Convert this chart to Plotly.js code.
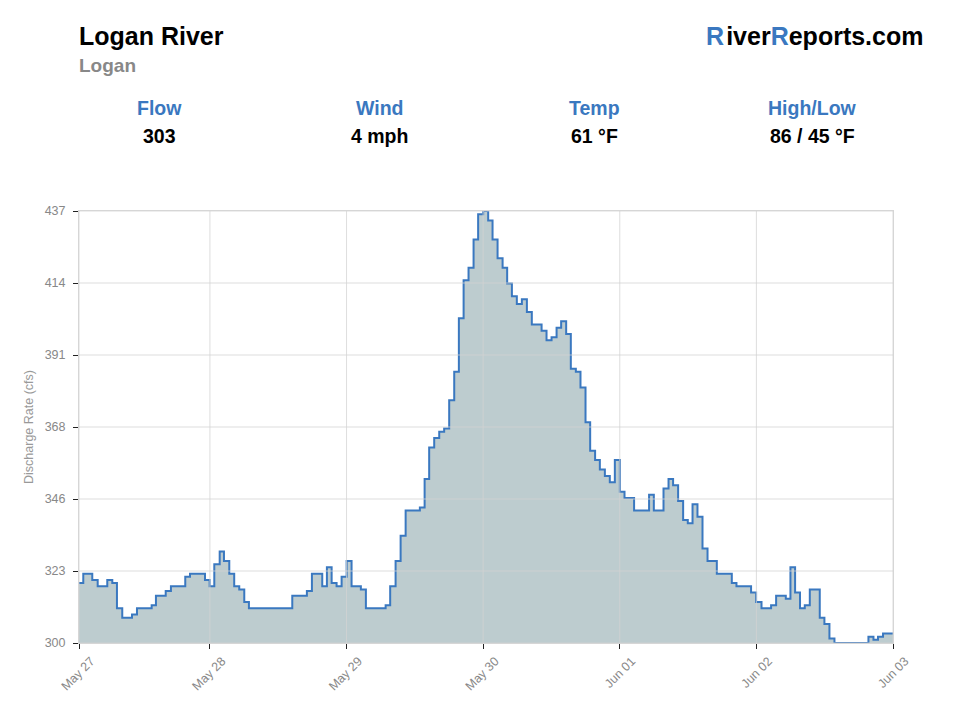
<!DOCTYPE html>
<html>
<head>
<meta charset="utf-8">
<script src="https://cdn.plot.ly/plotly-3.0.1.min.js"></script>
<style>
  html, body { margin: 0; padding: 0; background: #fff; }
  #chart { width: 960px; height: 720px; }
</style>
</head>
<body>
<div id="chart"></div>
<script>
// ---- Data ----
const times = [
  '2023-05-27 01:00','2023-05-27 01:45','2023-05-27 03:20','2023-05-27 04:17','2023-05-27 05:58',
  '2023-05-27 06:51','2023-05-27 07:40','2023-05-27 08:36','2023-05-27 10:19','2023-05-27 11:11',
  '2023-05-27 13:46','2023-05-27 14:31','2023-05-27 16:14','2023-05-27 17:09','2023-05-27 19:40',
  '2023-05-27 20:30','2023-05-27 23:08','2023-05-27 23:57',
  '2023-05-28 00:46','2023-05-28 01:43','2023-05-28 02:28','2023-05-28 03:24','2023-05-28 04:16',
  '2023-05-28 05:09','2023-05-28 06:02','2023-05-28 06:51','2023-05-28 14:28','2023-05-28 17:02',
  '2023-05-28 17:55','2023-05-28 19:44','2023-05-28 20:33','2023-05-28 21:23','2023-05-28 22:15',
  '2023-05-28 23:08',
  '2023-05-29 00:01','2023-05-29 00:53','2023-05-29 02:31','2023-05-29 03:24','2023-05-29 06:52',
  '2023-05-29 07:40','2023-05-29 08:37','2023-05-29 09:30','2023-05-29 10:23','2023-05-29 12:53',
  '2023-05-29 13:43','2023-05-29 14:31','2023-05-29 15:24','2023-05-29 16:17','2023-05-29 17:09',
  '2023-05-29 18:02','2023-05-29 18:55','2023-05-29 19:44','2023-05-29 20:34','2023-05-29 21:26',
  '2023-05-29 22:19','2023-05-29 23:07',
  '2023-05-30 00:00','2023-05-30 00:53','2023-05-30 01:39','2023-05-30 02:32','2023-05-30 03:25',
  '2023-05-30 04:13','2023-05-30 05:03','2023-05-30 05:55','2023-05-30 06:48','2023-05-30 07:41',
  '2023-05-30 08:33','2023-05-30 10:16','2023-05-30 11:08','2023-05-30 12:01','2023-05-30 12:54',
  '2023-05-30 13:42','2023-05-30 14:35','2023-05-30 15:24','2023-05-30 16:17','2023-05-30 17:06',
  '2023-05-30 17:59','2023-05-30 18:48','2023-05-30 19:40','2023-05-30 20:30','2023-05-30 21:23',
  '2023-05-30 22:15','2023-05-30 23:08',
  '2023-05-31 00:01','2023-05-31 00:50','2023-05-31 02:31','2023-05-31 05:09','2023-05-31 05:59',
  '2023-05-31 07:41','2023-05-31 08:34','2023-05-31 09:22','2023-05-31 10:15','2023-05-31 11:08',
  '2023-05-31 11:57','2023-05-31 12:47','2023-05-31 13:39','2023-05-31 14:32','2023-05-31 15:25',
  '2023-05-31 17:03','2023-05-31 19:41','2023-05-31 20:30','2023-05-31 23:04','2023-05-31 23:57',
  '2023-06-01 00:54','2023-06-01 02:35','2023-06-01 03:28','2023-06-01 05:10','2023-06-01 05:59',
  '2023-06-01 06:48','2023-06-01 07:40','2023-06-01 08:30','2023-06-01 09:23','2023-06-01 11:08',
  '2023-06-01 11:57','2023-06-01 12:50','2023-06-01 13:43','2023-06-01 19:41','2023-06-01 20:34',
  '2023-06-01 21:22','2023-06-01 22:15','2023-06-02 00:00'
];
const discharge = [
  319, 322, 320, 318, 320,
  319, 311, 308, 309, 311,
  312, 315, 316.5, 318, 321,
  322, 320, 318,
  325, 329, 326, 322, 318,
  317, 313, 311, 315, 316.5,
  322, 318, 324, 319, 318,
  321,
  326, 318, 317, 311, 312,
  318, 326, 334, 342, 343,
  352, 362, 365, 367, 368,
  377, 386, 403, 415, 419,
  428, 436,
  437, 434, 428, 422, 419,
  414, 410, 407.5, 409, 405,
  401, 399, 396, 397, 400,
  402, 398, 387, 386, 381,
  370, 361, 358, 355, 353,
  351, 358,
  348, 346, 342, 347, 342,
  349, 352, 350, 345, 339,
  338, 344, 340, 330, 326,
  322, 319, 318, 316, 313,
  311, 312, 315, 314, 324,
  316, 311, 312, 317, 308,
  306, 301.4, 300, 302, 301,
  302, 303, 303
];

const xRange = ['2023-05-27 01:00', '2023-06-02 00:00'];
const xTickVals = ['2023-05-27 01:00','2023-05-28 00:00','2023-05-29 00:00','2023-05-30 00:00',
                   '2023-05-31 00:00','2023-06-01 00:00','2023-06-02 00:00'];
const xTickLabels = ['May 27','May 28','May 29','May 30','Jun 01','Jun 02','Jun 03'];

const yMin = 300, yMax = 437;
const yTickLabels = ['300','323','346','368','391','414','437'];

const statLabels = ['Flow','Wind','Temp','High/Low'];
const statValues = ['303','4 mph','61 °F','86 / 45 °F'];

// ---- Derived ----
const yTickVals = yTickLabels.map((_, i) => yMin + (yMax - yMin) * i / (yTickLabels.length - 1));

const BLUE = '#3a78c0';
const FONT = 'Liberation Sans, Arial, Helvetica, sans-serif';

const trace = {
  x: times,
  y: discharge,
  type: 'scatter',
  mode: 'lines',
  line: { shape: 'hv', color: BLUE, width: 2 },
  fill: 'tozeroy',
  fillcolor: 'rgb(189,204,207)',
  hoverinfo: 'x+y'
};

// gridlines drawn above the fill (as in the reference)
const gridColor = 'rgba(210,210,210,0.76)';
const shapes = [];
yTickVals.forEach(v => shapes.push({
  type: 'line', xref: 'paper', yref: 'y', x0: 0, x1: 1, y0: v, y1: v,
  line: { color: gridColor, width: 1 }, layer: 'above'
}));
xTickVals.forEach(v => shapes.push({
  type: 'line', xref: 'x', yref: 'paper', x0: v, x1: v, y0: 0, y1: 1,
  line: { color: gridColor, width: 1 }, layer: 'above'
}));

const statX = [0.0995, 0.3686, 0.6327, 0.9005];
const annotations = [
  { text: '<b>Logan River</b>', x: -0.003, y: 1.405, xanchor: 'left', yanchor: 'middle',
    font: { size: 25, color: '#000', family: FONT } },
  { text: '<b>Logan</b>', x: -0.003, y: 1.336, xanchor: 'left', yanchor: 'middle',
    font: { size: 19, color: '#888', family: FONT } },
  { text: '<b><span style="color:' + BLUE + '">R</span>\u200Aiver<span style="color:' + BLUE + '">R</span>eports.com</b>',
    x: 1.0393, y: 1.405, xanchor: 'right', yanchor: 'middle',
    font: { size: 25, color: '#000', family: FONT } }
];
statLabels.forEach((s, i) => {
  annotations.push({ text: '<b>' + s + '</b>', x: statX[i], y: 1.2384, xanchor: 'center', yanchor: 'middle',
    font: { size: 19.5, color: BLUE, family: FONT } });
  annotations.push({ text: '<b>' + statValues[i] + '</b>', x: statX[i], y: 1.1736, xanchor: 'center', yanchor: 'middle',
    font: { size: 19.5, color: '#000', family: FONT } });
});
annotations.forEach(a => { a.xref = 'paper'; a.yref = 'paper'; a.showarrow = false; });

const layout = {
  width: 960, height: 720,
  margin: { l: 79, r: 67, t: 211, b: 77, pad: 0 },
  paper_bgcolor: '#fff', plot_bgcolor: '#fff',
  font: { family: FONT, color: '#888' },
  showlegend: false,
  xaxis: {
    type: 'date', range: xRange,
    tickmode: 'array', tickvals: xTickVals, ticktext: xTickLabels,
    tickangle: -45, tickfont: { size: 12.5, color: '#888' },
    ticklabelshift: 12,
    ticks: 'outside', ticklen: 5, tickcolor: '#222', tickwidth: 1,
    showgrid: false, zeroline: false,
    showline: true, mirror: true, linecolor: '#d6d6d6', linewidth: 1
  },
  yaxis: {
    range: [yMin, yMax],
    tickmode: 'array', tickvals: yTickVals, ticktext: yTickLabels,
    tickfont: { size: 12.5, color: '#888' },
    ticks: 'outside', ticklen: 5, tickcolor: '#222', tickwidth: 1,
    ticklabelstandoff: 5,
    showgrid: false, zeroline: false,
    showline: true, mirror: true, linecolor: '#d6d6d6', linewidth: 1,
    title: { text: 'Discharge Rate (cfs)', font: { size: 12.5, color: '#999' }, standoff: 8 }
  },
  shapes: shapes,
  annotations: annotations
};

Plotly.newPlot('chart', [trace], layout, { displayModeBar: false, staticPlot: true });
</script>
</body>
</html>
